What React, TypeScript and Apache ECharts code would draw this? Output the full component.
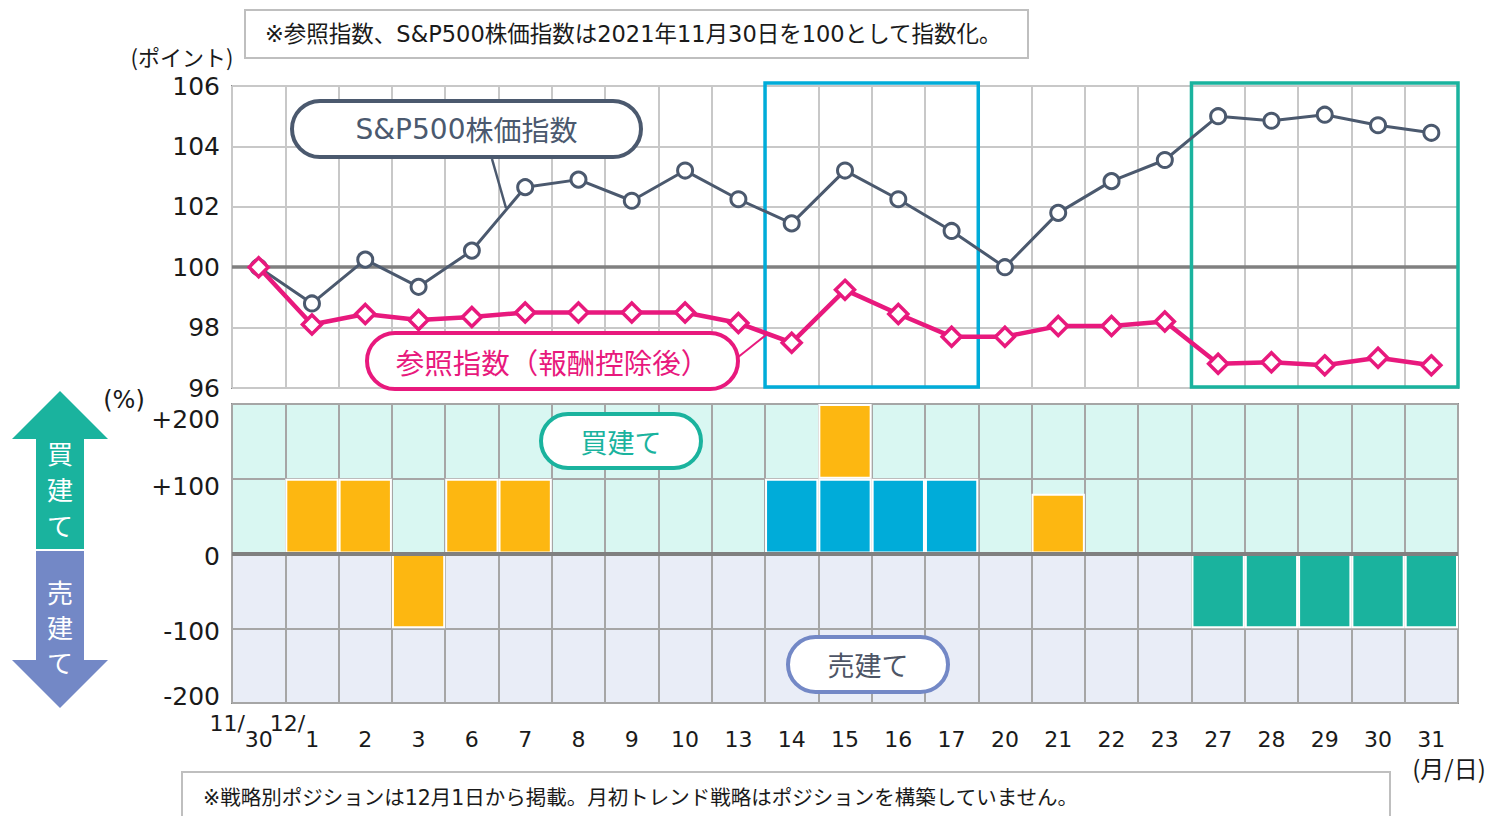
import React, { useEffect, useRef } from "react";
import * as echarts from "echarts";

const categories = ["11/30", "12/1", "2", "3", "6", "7", "8", "9", "10", "13", "14", "15", "16", "17", "20", "21", "22", "23", "27", "28", "29", "30", "31"];
const sp500 = [100, 98.8, 100.25, 99.35, 100.55, 102.65, 102.9, 102.2, 103.2, 102.25, 101.45, 103.2, 102.25, 101.2, 100.0, 101.8, 102.85, 103.55, 105.0, 104.85, 105.05, 104.7, 104.45];
const refIndex = [100, 98.1, 98.45, 98.25, 98.35, 98.5, 98.5, 98.5, 98.5, 98.15, 97.5, 99.25, 98.45, 97.7, 97.7, 98.05, 98.05, 98.2, 96.8, 96.85, 96.75, 97.0, 96.75];
const posBlue = [null, null, null, null, null, null, null, null, null, null, 100, 100, 100, 100, null, null, null, null, null, null, null, null, null];
const posOrange = [null, 100, 100, -100, 100, 100, null, null, null, null, null, 100, null, null, null, 80, null, null, null, null, null, null, null];
const posTeal = [null, null, null, null, null, null, null, null, null, null, null, null, null, null, null, null, null, null, -100, -100, -100, -100, -100];
const highlightRanges = [["14", "17"], ["27", "31"]];
const highlightColors = ["#00acd9", "#1ab39e"];

const JP = "'DejaVu Sans', 'Noto Sans CJK JP', sans-serif";
const JPONLY = "'Noto Sans CJK JP', sans-serif";
const NUM = "'DejaVu Sans', 'Noto Sans CJK JP', sans-serif";
const SLATE = "#4b596e";
const PINK = "#e8197d";

const posLabelStyle = (padding: number[]) => ({ fontSize: 25, fontFamily: NUM, color: "#1a1a1a", padding });

export default function App() {
  const ref = useRef<HTMLDivElement>(null);
  useEffect(() => {
    const chart = echarts.init(ref.current!, null, { renderer: "svg" });
    const boxData = highlightRanges.map((r) => [categories.indexOf(r[0]), categories.indexOf(r[1]), 101]);
    const pill = (x: number, y: number, w: number, h: number, color: string, text: string, textColor: string, fs: number, fam = JP, rich: any = undefined) => ({
      type: "group",
      z: 100,
      children: [
        { type: "rect", z: 100, shape: { x, y, width: w, height: h, r: h / 2 }, style: { fill: "#fff", stroke: color, lineWidth: 4 } },
        {
          type: "text",
          z: 101,
          style: { text, rich, x: x + w / 2, y: y + h / 2, fill: textColor, font: `${fs}px ${fam}`, align: "center", verticalAlign: "middle", textAlign: "center", textVerticalAlign: "middle" },
        },
      ],
    });
    const txt = (text: string, x: number, y: number, fs: number, align = "left", color = "#1a1a1a", extra: any = {}, fam = JP) => ({
      type: "text",
      z: 100,
      style: { text, x, y, fill: color, font: `${fs}px ${fam}`, align, verticalAlign: "middle", textAlign: align, textVerticalAlign: "middle", ...extra },
    });
    chart.setOption({
      animation: false,
      backgroundColor: "#fff",
      grid: [
        { left: 232, top: 86, width: 1226, height: 302, show: true, borderColor: "#8c8c8c", borderWidth: 2, backgroundColor: "transparent" },
        { left: 232, top: 404, width: 1226, height: 299, show: true, borderColor: "#8c8c8c", borderWidth: 2, backgroundColor: "transparent" },
      ],
      xAxis: [
        {
          type: "category", gridIndex: 0, data: categories, boundaryGap: true,
          axisLabel: { show: false }, axisTick: { show: false }, axisLine: { show: false },
          splitLine: { show: true, interval: 0, lineStyle: { color: "#c8c8c8", width: 2 } },
        },
        {
          type: "category", gridIndex: 1, data: categories, boundaryGap: true,
          axisTick: { show: false }, axisLine: { show: false },
          splitLine: { show: true, interval: 0, lineStyle: { color: "#a6a6a6", width: 2 } },
          axisLabel: {
            interval: 0, margin: 9,
            formatter: (v: string) => {
              const k = v.indexOf("/");
              if (k >= 0) return `{p|${v.slice(0, k + 1)}}{d|${v.slice(k + 1)}}{s| }`;
              return `{d|${v}}`;
            },
            rich: {
              p: { fontSize: 22, fontFamily: NUM, color: "#1a1a1a", verticalAlign: "top" },
              d: { fontSize: 22, fontFamily: NUM, color: "#1a1a1a", padding: [16, 0, 0, 0], verticalAlign: "bottom" },
              s: { fontSize: 22, fontFamily: NUM, width: 35 },
            },
          },
        },
      ],
      yAxis: [
        {
          type: "value", gridIndex: 0, min: 96, max: 106, interval: 2,
          axisLine: { show: false }, axisTick: { show: false },
          splitLine: { lineStyle: { color: "#c8c8c8", width: 2 } },
          axisLabel: { fontSize: 25, fontFamily: NUM, color: "#1a1a1a", margin: 12 },
        },
        {
          type: "value", gridIndex: 1, min: -200, max: 200, interval: 100,
          axisLine: { show: false }, axisTick: { show: false },
          splitLine: { lineStyle: { color: "#a6a6a6", width: 2 } },
          axisLabel: {
            margin: 12,
            formatter: (v: number) => {
              const t = v > 0 ? "+" + v : String(v);
              const key = v === 200 ? "a" : v === 100 ? "b" : v === -200 ? "e" : "c";
              return `{${key}|${t}}`;
            },
            rich: {
              a: posLabelStyle([30, 0, 0, 0]),
              b: posLabelStyle([16, 0, 0, 0]),
              c: posLabelStyle([6, 0, 0, 0]),
              e: posLabelStyle([0, 0, 14, 0]),
            },
          },
        },
      ],
      series: [
        {
          type: "custom", xAxisIndex: 0, yAxisIndex: 0, z: 3,
          encode: { x: [0, 1], y: 2 },
          data: boxData,
          renderItem: (params: any, api: any) => {
            const bw = api.size([1, 0])[0];
            const tl = api.coord([api.value(0), 106]);
            const br = api.coord([api.value(1), 96]);
            return {
              type: "rect",
              shape: { x: tl[0] - bw / 2, y: tl[1] - 3, width: br[0] - tl[0] + bw, height: br[1] - tl[1] + 2 },
              style: { fill: "none", stroke: highlightColors[params.dataIndex], lineWidth: 3.5 },
            };
          },
        },
        {
          name: "S&P500株価指数", type: "line", xAxisIndex: 0, yAxisIndex: 0, data: sp500, z: 4,
          symbol: "circle", symbolSize: 15,
          lineStyle: { color: SLATE, width: 3 },
          itemStyle: { color: "#fff", borderColor: SLATE, borderWidth: 3 },
          markLine: {
            silent: true, symbol: "none", z: 2, label: { show: false },
            lineStyle: { color: "#808080", width: 3.5, type: "solid" },
            data: [{ yAxis: 100 }],
          },
        },
        {
          name: "参照指数（報酬控除後）", type: "line", xAxisIndex: 0, yAxisIndex: 0, data: refIndex, z: 5,
          symbol: "diamond", symbolSize: 19,
          lineStyle: { color: PINK, width: 4.5 },
          itemStyle: { color: "#fff", borderColor: PINK, borderWidth: 3.5 },
        },
        {
          type: "bar", xAxisIndex: 1, yAxisIndex: 1, stack: "pos", data: posBlue, barWidth: "100%", barCategoryGap: 0,
          itemStyle: { color: "#00acd9", borderColor: "#fff", borderWidth: 2 },
          markArea: {
            silent: true, z: -1,
            data: [
              [{ yAxis: 0, itemStyle: { color: "#d9f7f2" } }, { yAxis: 200 }],
              [{ yAxis: -200, itemStyle: { color: "#e9edf7" } }, { yAxis: 0 }],
            ],
          },
          markLine: {
            silent: true, symbol: "none", z: 10, label: { show: false },
            lineStyle: { color: "#808080", width: 4, type: "solid" },
            data: [{ yAxis: 0 }],
          },
        },
        {
          type: "bar", xAxisIndex: 1, yAxisIndex: 1, stack: "pos", data: posOrange, barWidth: "100%", barCategoryGap: 0,
          itemStyle: { color: "#fdb711", borderColor: "#fff", borderWidth: 2 },
        },
        {
          type: "bar", xAxisIndex: 1, yAxisIndex: 1, stack: "pos", data: posTeal, barWidth: "100%", barCategoryGap: 0,
          itemStyle: { color: "#1ab39e", borderColor: "#fff", borderWidth: 2 },
        },
      ],
      graphic: [
        {
          type: "group", z: 100, children: [
            { type: "rect", shape: { x: 245, y: 10, width: 783, height: 48 }, style: { fill: "#fff", stroke: "#bfbfbf", lineWidth: 2 } },
          ],
        },
        txt("※参照指数、S&P500株価指数は2021年11月30日を100として指数化。", 265, 34, 22.5),
        {
          type: "group", z: 100, children: [
            { type: "rect", shape: { x: 182, y: 772, width: 1208, height: 60 }, style: { fill: "#fff", stroke: "#bfbfbf", lineWidth: 2 } },
          ],
        },
        txt("※戦略別ポジションは12月1日から掲載。月初トレンド戦略はポジションを構築していません。", 203, 798, 20.5),
        txt("(ポイント)", 182, 56, 22, "center", "#1a1a1a", {}, JPONLY),
        txt("(%)", 124, 400, 24, "center", "#1a1a1a", {}, NUM),
        txt("(月/日)", 1449, 767, 24, "center", "#1a1a1a", {}, JPONLY),
        pill(292, 101, 349, 56, SLATE, "{a|S&P500}{b|株価指数}", SLATE, 28, JP, {
          a: { fontSize: 28, fontFamily: "'DejaVu Sans'", fill: SLATE, color: SLATE },
          b: { fontSize: 28, fontFamily: JPONLY, fill: SLATE, color: SLATE },
        }),
        { type: "line", z: 99, shape: { x1: 492, y1: 159, x2: 506, y2: 208 }, style: { stroke: SLATE, lineWidth: 2.5 } },
        pill(367, 333, 371, 56, PINK, "参照指数（報酬控除後）", PINK, 28.5, JPONLY),
        { type: "line", z: 99, shape: { x1: 737, y1: 358, x2: 766, y2: 335 }, style: { stroke: PINK, lineWidth: 2 } },
        pill(541, 414, 160, 54, "#1ab39e", "買建て", "#1ab39e", 27, JPONLY),
        pill(788, 637, 160, 55, "#7388c6", "売建て", "#4d5566", 27, JPONLY),
        {
          type: "polygon", z: 100,
          shape: { points: [[60, 391], [108, 439], [84, 439], [84, 549], [36, 549], [36, 439], [12, 439]] },
          style: { fill: "#1ab39e" },
        },
        {
          type: "polygon", z: 100,
          shape: { points: [[36, 551], [84, 551], [84, 660], [108, 660], [60, 708], [12, 660], [36, 660]] },
          style: { fill: "#7388c6" },
        },
        txt("買\n建\nて", 60, 488, 26, "center", "#fff", { lineHeight: 36 }, JPONLY),
        txt("売\n建\nて", 60, 626, 26, "center", "#fff", { lineHeight: 35 }, JPONLY),
      ],
    });
    return () => chart.dispose();
  }, []);
  return <div ref={ref} style={{ position: "fixed", left: 0, top: 0, width: 1488, height: 816 }} />;
}
